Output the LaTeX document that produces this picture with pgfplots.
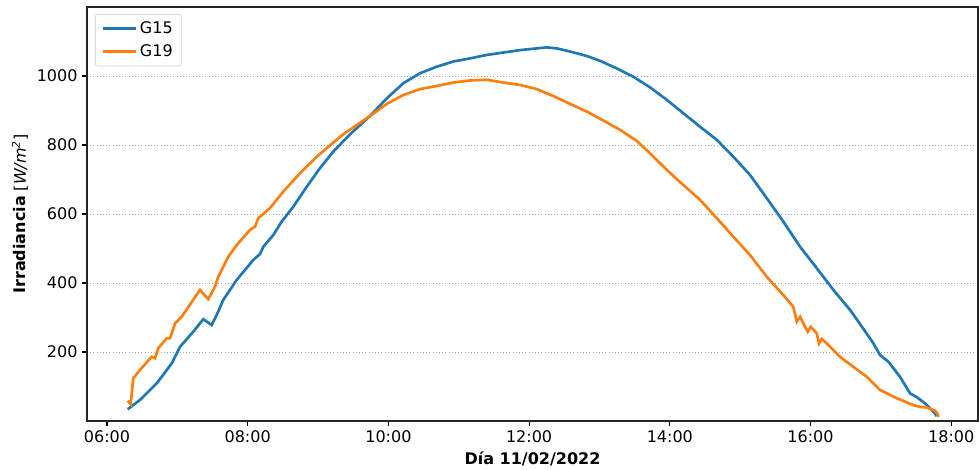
\documentclass[border=0pt]{standalone}
\usepackage{fontspec}
\setmainfont{DejaVu Sans}
\usepackage{pgfplots}
\pgfplotsset{compat=1.18}
\usetikzlibrary{calc}
\definecolor{tabblue}{HTML}{1F77B4}
\definecolor{taborange}{HTML}{FF7F0E}
\begin{document}
\begin{tikzpicture}
\begin{axis}[
  scale only axis, width=668.25pt, height=310.5pt,
  xmin=5.716, xmax=18.38, ymin=0, ymax=1200,
  xtick={6,8,10,12,14,16,18},
  xticklabels={06:00,08:00,10:00,12:00,14:00,16:00,18:00},
  ytick={200,400,600,800,1000},
  ymajorgrids, grid style={dotted, black!35, line width=0.6pt},
  tick align=outside, tick pos=left, major tick length=3.6pt,
  every tick/.style={black, line width=0.8pt},
  axis line style={line width=0.8pt, black!85},
  /pgf/number format/assume math mode=true,
  /pgf/number format/1000 sep={},
  ticklabel style={font=\fontsize{12}{14}\selectfont},
  xlabel={\textbf{Día 11/02/2022}},
  ylabel={\textbf{Irradiancia} [\textit{W/m}\textsuperscript{\textit{2}}]},
  label style={font=\fontsize{12}{14}\selectfont},
  xlabel style={at={(axis description cs:0.5,-0.0918)}, anchor=center},
  ylabel style={at={(axis description cs:-0.0752,0.5)}, anchor=center},
  legend style={at={(axis description cs:0,1)}, anchor=north west, xshift=6pt, yshift=-5.25pt,
    draw=black!20, rounded corners=2pt, fill=white, font=\fontsize{12}{14}\selectfont,
    row sep=3pt, inner xsep=4.5pt, inner ysep=3.5pt},
  legend cell align=left,
  legend image code/.code={\draw[#1] (0pt,0pt) -- (25pt,0pt);},
]
\addplot[tabblue, line width=2pt] coordinates {
(6.294,34) (6.469,61) (6.706,109) (6.778,128) (6.920,167) (6.991,196) (7.038,215)
(7.227,259) (7.369,295) (7.488,278) (7.559,307) (7.653,351) (7.844,409) (8.080,467)
(8.175,484) (8.222,505) (8.364,539) (8.483,578) (8.648,621) (8.839,679) (9.028,733)
(9.217,781) (9.45,830) (9.738,884) (9.976,935) (10.212,979) (10.449,1008) (10.687,1027)
(10.922,1042) (11.160,1051) (11.397,1061) (11.633,1068) (11.871,1075) (12.108,1080)
(12.250,1083) (12.392,1080) (12.582,1071) (12.819,1058) (13.008,1044) (13.245,1022)
(13.481,998) (13.719,967) (13.956,931) (14.192,892) (14.429,853) (14.667,815)
(14.903,766) (15.140,713) (15.377,646) (15.613,578) (15.851,505) (16.088,443)
(16.324,380) (16.561,322) (16.680,288) (16.893,225) (16.988,191) (17.106,172)
(17.272,128) (17.414,80) (17.510,69) (17.628,51) (17.746,27) (17.794,14)
};
\addlegendentry{G15}
\addplot[taborange, line width=2pt] coordinates {
(6.294,59) (6.337,49) (6.374,124) (6.469,148) (6.635,186) (6.682,182) (6.729,211)
(6.849,240) (6.896,240) (6.967,283) (7.062,302) (7.322,380) (7.440,353) (7.535,389)
(7.582,418) (7.724,476) (7.844,510) (8.033,554) (8.104,563) (8.151,588) (8.317,617)
(8.506,665) (8.743,718) (8.981,766) (9.35,830) (9.738,884) (9.976,919) (10.212,945)
(10.449,962) (10.687,971) (10.922,981) (11.160,987) (11.397,989) (11.633,981)
(11.871,974) (12.108,962) (12.344,942) (12.582,919) (12.819,897) (13.055,871)
(13.292,844) (13.529,812) (13.719,776) (13.956,728) (14.192,684) (14.429,641)
(14.667,588) (14.903,534) (15.140,481) (15.377,418) (15.613,365) (15.755,331)
(15.804,288) (15.851,302) (15.922,273) (15.960,259) (16.003,273) (16.088,254)
(16.121,225) (16.159,238) (16.230,225) (16.419,186) (16.608,157) (16.799,128)
(16.988,90) (17.225,66) (17.461,46) (17.557,41) (17.652,39) (17.770,30) (17.802,22)
(17.817,12)
};
\addlegendentry{G19}
\end{axis}
\pgfresetboundingbox
\useasboundingbox ($(current axis.south west)+(-65.25pt,-36.75pt)$) rectangle ($(current axis.north east)+(0.75pt,5.25pt)$);
\end{tikzpicture}
\end{document}
